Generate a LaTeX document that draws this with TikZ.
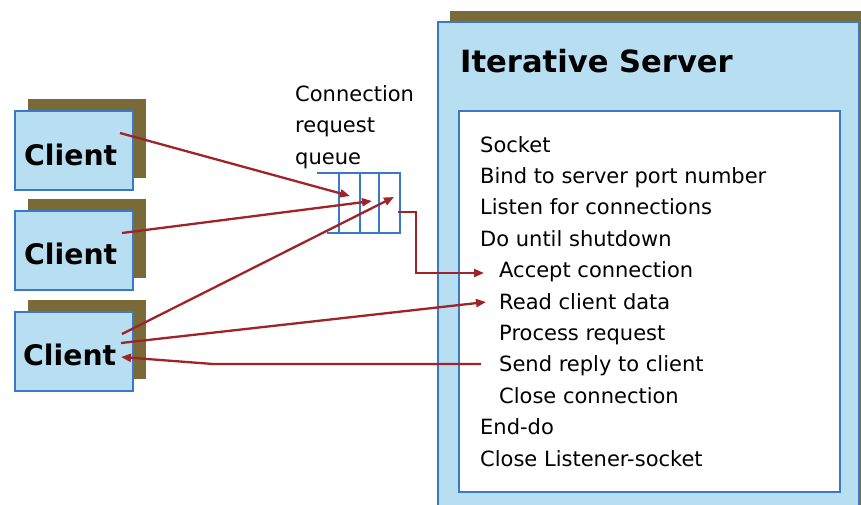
\documentclass[tikz,border=0pt]{standalone}
\usepackage{fontspec}
\setmainfont{DejaVu Sans}
\usetikzlibrary{arrows.meta}
\definecolor{boxfill}{RGB}{184,222,242}
\definecolor{boxline}{RGB}{58,120,200}
\definecolor{shade}{RGB}{122,106,56}
\definecolor{arrowred}{RGB}{160,35,40}
\tikzset{
  shadowbox/.style={fill=shade, draw=none, inner sep=0, outer sep=0, anchor=north west},
  bluebox/.style={fill=boxfill, draw=boxline, line width=2.6pt, inner sep=0, outer sep=0, anchor=north west},
  whitebox/.style={fill=white, draw=boxline, line width=2.6pt, inner sep=0, outer sep=0, anchor=north west},
  clientlabel/.style={anchor=base west, inner sep=0, font=\fontsize{28.3}{30}\selectfont\bfseries},
  titletext/.style={anchor=base west, inner sep=0, font=\fontsize{30.6}{32}\selectfont\bfseries},
  listtext/.style={anchor=base west, inner sep=0, font=\fontsize{21}{24}\selectfont},
  queueline/.style={draw=boxline, line width=2.6pt},
  link/.style={draw=arrowred, line width=2.3pt, -{Triangle[length=10pt,width=8pt]}},
}
\begin{document}
\begin{tikzpicture}[x=1pt,y=-1pt]
\useasboundingbox (0,0) rectangle (861,504);
\clip (0,0) rectangle (861,504);

% clients
\node[shadowbox, minimum width=118pt, minimum height=79pt] (c1s) at (28,99) {};
\node[bluebox, minimum width=118pt, minimum height=79pt] (c1) at (15,111) {};
\node[clientlabel] (l1) at (24,165) {Client};

\node[shadowbox, minimum width=118pt, minimum height=79pt] (c2s) at (28,199) {};
\node[bluebox, minimum width=118pt, minimum height=79pt] (c2) at (15,211) {};
\node[clientlabel] (l2) at (24,264) {Client};

\node[shadowbox, minimum width=118pt, minimum height=79pt] (c3s) at (28,300) {};
\node[bluebox, minimum width=118pt, minimum height=79pt] (c3) at (15,312) {};
\node[clientlabel] (l3) at (23,365) {Client};

% server
\node[shadowbox, minimum width=430pt, minimum height=510pt] (srvs) at (450,11) {};
\node[bluebox, minimum width=421pt, minimum height=500pt] (srv) at (438,22) {};
\node[titletext] (title) at (460,72) {Iterative Server};
\node[whitebox, minimum width=381pt, minimum height=381pt] (inner) at (459,111) {};

\node[listtext] (s1) at (480,152) {Socket};
\node[listtext] (s2) at (480,183.4) {Bind to server port number};
\node[listtext] (s3) at (480,214.8) {Listen for connections};
\node[listtext] (s4) at (480,246.2) {Do until shutdown};
\node[listtext] (s5) at (499,277.6) {Accept connection};
\node[listtext] (s6) at (499,309) {Read client data};
\node[listtext] (s7) at (499,340.4) {Process request};
\node[listtext] (s8) at (499,371.8) {Send reply to client};
\node[listtext] (s9) at (499,403.2) {Close connection};
\node[listtext] (s10) at (480,434.6) {End-do};
\node[listtext] (s11) at (480,466) {Close Listener-socket};

% queue
\node[listtext] (ql1) at (295,101) {Connection};
\node[listtext] (ql2) at (295,132.5) {request};
\node[listtext] (ql3) at (295,164) {queue};
\draw[queueline] (317,173) -- (400,173) -- (400,233) -- (327,233);
\draw[queueline] (339,173) -- (339,233);
\draw[queueline] (360,173) -- (360,233);
\draw[queueline] (379,173) -- (379,233);

% connector end points
\coordinate (a1s) at (120,133);
\coordinate (q1) at (350,196);
\coordinate (a2s) at (122,233);
\coordinate (q2) at (372,201);
\coordinate (a3s) at (122,334);
\coordinate (q3) at (394,197);
\coordinate (qo) at (398,212);
\coordinate (acc) at (484,273);
\coordinate (a5s) at (121,343);
\coordinate (rd) at (486,302);
\coordinate (snd) at (481,364);
\coordinate (a6e) at (121,357);

\draw[link] (a1s) -- (q1);
\draw[link] (a2s) -- (q2);
\draw[link] (a3s) -- (q3);
\draw[link] (qo) -- ++(18,0) |- (acc);
\draw[link] (a5s) -- (rd);
\draw[link] (snd) -- ++(-268,0) -- (a6e);
\end{tikzpicture}
\end{document}
